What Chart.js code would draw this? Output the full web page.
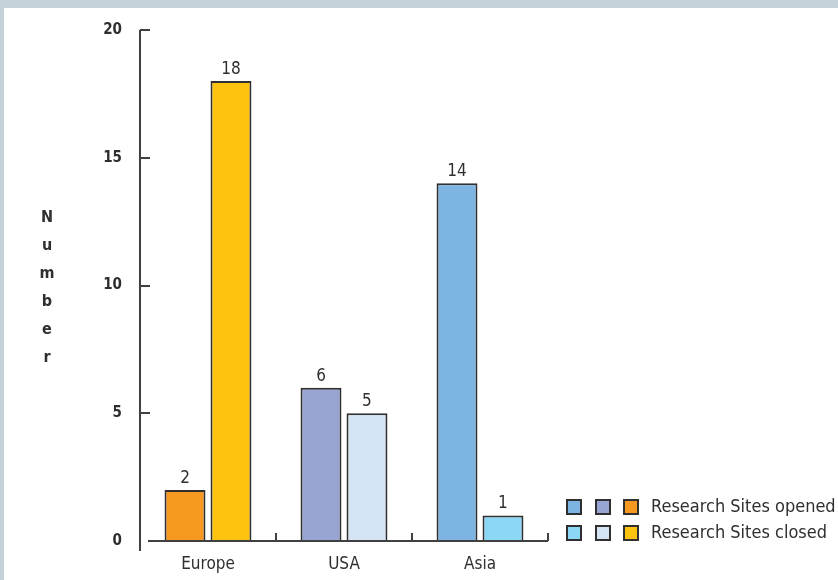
<!DOCTYPE html>
<html>
<head>
<meta charset="utf-8">
<script src="https://cdn.jsdelivr.net/npm/chart.js@4.4.1/dist/chart.umd.min.js"></script>
<style>
  html, body { margin: 0; padding: 0; background: #c5d2d9; }
  body { width: 838px; height: 580px; position: relative; overflow: hidden; }
  #wrap { position: absolute; left: 4px; top: 8px; width: 834px; height: 572px; background: #ffffff; }
  canvas { display: block; }
</style>
</head>
<body>
<div id="wrap"><canvas id="c" width="834" height="572"></canvas></div>
<script>
// Regions and site counts
const regions = ['Europe', 'USA', 'Asia'];
const sitesOpened = [2, 6, 14];
const sitesClosed = [18, 5, 1];
const seriesNames = ['Research Sites opened', 'Research Sites closed'];
const yTicks = [0, 5, 10, 15, 20];
const axisTitle = 'Number';

// Per-region fills for each series
const openedColors = ['#f7991e', '#98a5d2', '#7db4e2'];
const closedColors = ['#fdc30f', '#d4e4f4', '#8cd6f6'];

const FONT = '"Liberation Sans Narrow", "DejaVu Sans Condensed", "Arial Narrow", sans-serif';
const INK = '#2f2f2f';
const EDGE = '#303030';

// Axis lines drawn with inward ticks, offset like a technical plot
const axesPlugin = {
  id: 'axes',
  afterDraw(chart) {
    const ctx = chart.ctx;
    const y = chart.scales.y;
    const ca = chart.chartArea;
    ctx.save();
    ctx.strokeStyle = '#404040';
    ctx.lineWidth = 2;
    // vertical axis
    ctx.beginPath();
    ctx.moveTo(ca.left, y.getPixelForValue(20));
    ctx.lineTo(ca.left, ca.bottom + 10);
    ctx.stroke();
    yTicks.forEach(v => {
      if (v === 0) return;
      const py = Math.round(y.getPixelForValue(v));
      ctx.beginPath();
      ctx.moveTo(ca.left, py);
      ctx.lineTo(ca.left + 10, py);
      ctx.stroke();
    });
    // horizontal axis
    const by = ca.bottom;
    ctx.beginPath();
    ctx.moveTo(ca.left + 8, by);
    ctx.lineTo(ca.right, by);
    ctx.stroke();
    const w = (ca.right - ca.left) / regions.length;
    for (let i = 1; i <= regions.length; i++) {
      const px = Math.round(ca.left + w * i);
      ctx.beginPath();
      ctx.moveTo(px, by);
      ctx.lineTo(px, by - 8);
      ctx.stroke();
    }
    ctx.restore();
  }
};

// Value labels above each bar
const valuePlugin = {
  id: 'values',
  afterDatasetsDraw(chart) {
    const ctx = chart.ctx;
    ctx.save();
    ctx.font = '17px ' + FONT;
    ctx.fillStyle = INK;
    ctx.textAlign = 'center';
    ctx.textBaseline = 'bottom';
    chart.data.datasets.forEach((ds, di) => {
      chart.getDatasetMeta(di).data.forEach((bar, i) => {
        ctx.fillText(String(ds.data[i]), bar.x, bar.y - 3);
      });
    });
    ctx.restore();
  }
};

// Stacked-letter axis title
const titlePlugin = {
  id: 'stackTitle',
  afterDraw(chart) {
    const ctx = chart.ctx;
    ctx.save();
    ctx.font = 'bold 16px ' + FONT;
    ctx.fillStyle = INK;
    ctx.textAlign = 'center';
    ctx.textBaseline = 'alphabetic';
    axisTitle.split('').forEach((ch, i) => {
      ctx.fillText(ch, 43, 214 + i * 28);
    });
    ctx.restore();
  }
};

// Legend: one swatch per region for each series
const legendPlugin = {
  id: 'swatchLegend',
  afterDraw(chart) {
    const ctx = chart.ctx;
    ctx.save();
    ctx.font = '18px ' + FONT;
    ctx.textBaseline = 'middle';
    ctx.textAlign = 'left';
    const xs = [562, 591, 619];
    chart.data.datasets.forEach((ds, di) => {
      const top = 491 + di * 26;
      const cols = ds.backgroundColor.slice().reverse();
      cols.forEach((c, k) => {
        ctx.fillStyle = c;
        ctx.fillRect(xs[k], top, 16, 16);
        ctx.strokeStyle = EDGE;
        ctx.lineWidth = 2;
        ctx.strokeRect(xs[k] + 1, top + 1, 14, 14);
      });
      ctx.fillStyle = INK;
      ctx.fillText(ds.label, 647, top + 8);
    });
    ctx.restore();
  }
};

new Chart(document.getElementById('c'), {
  type: 'bar',
  data: {
    labels: regions,
    datasets: [
      { label: seriesNames[0], data: sitesOpened, backgroundColor: openedColors,
        borderColor: EDGE, borderWidth: 2, borderSkipped: 'bottom' },
      { label: seriesNames[1], data: sitesClosed, backgroundColor: closedColors,
        borderColor: EDGE, borderWidth: 2, borderSkipped: 'bottom' }
    ]
  },
  options: {
    responsive: false,
    animation: false,
    devicePixelRatio: 1,
    categoryPercentage: 0.676,
    barPercentage: 0.891,
    layout: { padding: { left: 0, top: 22, right: 290, bottom: 0 } },
    plugins: {
      legend: { display: false },
      tooltip: { enabled: false },
      title: { display: false }
    },
    scales: {
      x: {
        grid: { display: false, drawTicks: false },
        border: { display: false },
        ticks: { color: INK, font: { family: FONT, size: 17 }, padding: 13 },
        afterFit(s) { s.height = 39; s.paddingLeft = 0; s.paddingRight = 0; }
      },
      y: {
        min: 0, max: 20,
        grid: { display: false, drawTicks: false },
        border: { display: false },
        ticks: { stepSize: 5, color: INK, font: { family: FONT, size: 15, weight: 'bold' }, padding: 18 },
        afterFit(s) { s.width = 136; s.paddingTop = 0; s.paddingBottom = 0; }
      }
    }
  },
  plugins: [axesPlugin, valuePlugin, titlePlugin, legendPlugin]
});
</script>
</body>
</html>
